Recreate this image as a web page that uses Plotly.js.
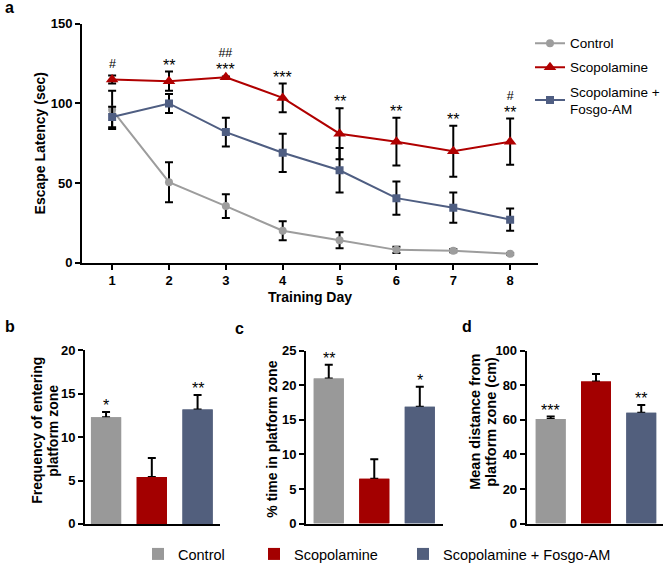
<!DOCTYPE html>
<html>
<head>
<meta charset="utf-8">
<script src="https://cdn.plot.ly/plotly-3.0.1.min.js"></script>
<style>
body{margin:0;background:#fff}
#chart{width:669px;height:570px}
</style>
</head>
<body>
<div id="chart"></div>
<script>
// panel a: escape latency per training day (mean, error)
var days = [1, 2, 3, 4, 5, 6, 7, 8];
var controlMean = [96, 50.5, 35.5, 20, 14, 8, 7.5, 5.5];
var controlErr = [12, 12.5, 7.5, 6, 5, 2, 1, 0.5];
var scopMean = [115, 114, 116.5, 103.5, 81, 76, 70, 76];
var scopErr = [2.5, 6, 0.5, 9, 16, 15, 16, 14.5];
var fosgoMean = [91.5, 100, 82, 69, 58, 40.5, 34.5, 27];
var fosgoErr = [6.5, 6, 9, 12, 14, 10.5, 9.5, 7];
var starLabels = ['', '**', '***', '***', '**', '**', '**', '**'];
var hashLabels = ['#', '', '##', '', '', '', '', '#'];

// panels b-d: probe trial bars
var groups = ['Control', 'Scopolamine', 'Scopolamine + Fosgo-AM'];
var freqMean = [12.3, 5.4, 13.2];
var freqErr = [0.6, 2.2, 1.65];
var freqSig = ['*', '', '**'];
var timeMean = [21.0, 6.5, 16.9];
var timeErr = [2.0, 2.8, 2.9];
var timeSig = ['**', '', '*'];
var distMean = [60.5, 82.2, 64.1];
var distErr = [1.5, 4.4, 4.5];
var distSig = ['***', '', '**'];

var W = 669, H = 570;
function px(x){ return x / W }
function py(y){ return 1 - y / H }

var font = 'Arial, "Liberation Sans", sans-serif';
var lineColors = ['#9d9d9d', '#b00000', '#4f5e82'];
var barColors = ['#999999', '#a30000', '#525f7d'];

var data = [];
var annotations = [];

// line chart
var series = [
    {name: 'Control', y: controlMean, e: controlErr, symbol: 'circle', size: 8},
    {name: 'Scopolamine', y: scopMean, e: scopErr, symbol: 'triangle-up', size: 11},
    {name: 'Scopolamine +<br>Fosgo-AM', y: fosgoMean, e: fosgoErr, symbol: 'square', size: 8}
];
for (let i = 0; i < series.length; i++){
    data.push({
        type: 'scatter',
        mode: 'lines+markers',
        name: series[i].name,
        legendgroup: 'g' + i,
        x: days,
        y: series[i].y,
        line: {color: lineColors[i], width: 2},
        marker: {color: lineColors[i], symbol: series[i].symbol, size: series[i].size},
        error_y: {type: 'data', array: series[i].e, color: '#000', thickness: 2, width: 4},
        xaxis: 'x', yaxis: 'y'
    });
}
// significance marks over the scopolamine points, # stacked above the stars
for (let k = 0; k < days.length; k++){
    var errTop = scopMean[k] + scopErr[k];
    if (starLabels[k]){
        var txt = '<span style="font-size:16px">' + starLabels[k] + '</span>';
        if (hashLabels[k]) txt = '<span style="font-size:12.5px">' + hashLabels[k] + '</span><br>' + txt;
        annotations.push({x: days[k], y: errTop, xref: 'x', yref: 'y', text: txt, showarrow: false,
            yanchor: 'bottom', yshift: -4, font: {family: font, size: 14, color: '#000'}});
    } else if (hashLabels[k]){
        annotations.push({x: days[k], y: errTop, xref: 'x', yref: 'y', text: hashLabels[k], showarrow: false,
            yanchor: 'middle', yshift: 12, font: {family: font, size: 12.5, color: '#000'}});
    }
}

// bar panels
var panels = [
    {mean: freqMean, err: freqErr, sig: freqSig, ax: '2'},
    {mean: timeMean, err: timeErr, sig: timeSig, ax: '3'},
    {mean: distMean, err: distErr, sig: distSig, ax: '4'}
];
for (let p = 0; p < panels.length; p++){
    var pn = panels[p];
    for (let i = 0; i < groups.length; i++){
        data.push({
            type: 'bar', name: groups[i], x: [groups[i]], y: [pn.mean[i]], width: 0.66,
            marker: {color: barColors[i]},
            error_y: {type: 'data', symmetric: false, array: [pn.err[i]], arrayminus: [0], color: '#000', thickness: 2, width: 4},
            showlegend: p == 0, legend: 'legend' + (i + 2),
            xaxis: 'x' + pn.ax, yaxis: 'y' + pn.ax
        });
    }
    // same bars again, hides the lower cap of the error bars
    for (let i = 0; i < groups.length; i++){
        data.push({
            type: 'bar', name: groups[i], x: [groups[i]], y: [pn.mean[i]], width: 0.66,
            marker: {color: barColors[i]}, showlegend: false, hoverinfo: 'skip',
            xaxis: 'x' + pn.ax, yaxis: 'y' + pn.ax
        });
        if (pn.sig[i]){
            annotations.push({x: groups[i], y: pn.mean[i] + pn.err[i], xref: 'x' + pn.ax, yref: 'y' + pn.ax,
                text: pn.sig[i], showarrow: false, yanchor: 'middle', yshift: 6.3,
                font: {family: font, size: 16, color: '#000'}});
        }
    }
}

// panel letters
var letters = [['a', 3, 8], ['b', 3, 328], ['c', 233, 330], ['d', 460, 328]];
for (let i = 0; i < letters.length; i++){
    annotations.push({text: letters[i][0], x: px(letters[i][1]), y: py(letters[i][2]), xref: 'paper', yref: 'paper',
        xanchor: 'left', yanchor: 'middle', showarrow: false,
        font: {family: font, size: 16, weight: 'bold', color: '#000'}});
}

// y titles of the bar panels, one line each
var barTitles = [
    ['Frequency of entering', 37, 433, 14],
    ['platform zone', 53, 433, 14],
    ['% time in platform zone', 272, 442, 14],
    ['Mean distance from', 475, 424, 14.5],
    ['platform zone (cm)', 491, 424, 14.5]
];
for (let i = 0; i < barTitles.length; i++){
    annotations.push({text: barTitles[i][0], x: px(barTitles[i][1]), y: py(barTitles[i][2]), xref: 'paper', yref: 'paper',
        xanchor: 'center', yanchor: 'middle', textangle: -90, showarrow: false,
        font: {family: font, size: barTitles[i][3], weight: 'bold', color: '#000'}});
}

var tickFont = {family: font, size: 13, weight: 'bold', color: '#000'};
var titleFont = {family: font, size: 14, weight: 'bold', color: '#000'};

function yax(dom, range, dtick, anchor){
    return {domain: dom, range: range, dtick: dtick, anchor: anchor,
        showline: true, linewidth: 2, linecolor: '#000', ticks: 'outside', ticklen: 5, tickwidth: 2, tickcolor: '#000',
        showgrid: false, zeroline: false, tickfont: tickFont};
}
function barx(dom, range, anchor){
    return {domain: dom, range: range, anchor: anchor, type: 'category', categoryarray: groups,
        showline: true, linewidth: 2, linecolor: '#000', ticks: '', showticklabels: false,
        showgrid: false, zeroline: false};
}
function bottomLegend(x){
    return {x: px(x), y: py(541), xanchor: 'left', yanchor: 'top', bgcolor: 'rgba(0,0,0,0)',
        font: {family: font, size: 14.5, color: '#000'}};
}

var yMain = yax([py(264), py(24)], [0, 150], 50, 'x');
yMain.title = {text: 'Escape Latency (sec)', font: titleFont, standoff: 2};

var layout = {
    width: W, height: H,
    margin: {l: 0, r: 0, t: 0, b: 0},
    paper_bgcolor: '#fff', plot_bgcolor: '#fff',
    barmode: 'overlay',
    font: {family: font, color: '#000'},
    xaxis: {domain: [px(82), px(538)], range: [0.47, 8.49], tickvals: days, anchor: 'y',
        showline: true, linewidth: 2, linecolor: '#000', ticks: 'outside', ticklen: 5, tickwidth: 2, tickcolor: '#000',
        showgrid: false, zeroline: false, tickfont: tickFont,
        title: {text: 'Training Day', font: titleFont, standoff: 5}},
    yaxis: yMain,
    xaxis2: barx([px(85), px(220)], [-0.46, 2.49], 'y2'),
    yaxis2: yax([py(526.7), py(352.3)], [0, 20], 5, 'x2'),
    xaxis3: barx([px(306), px(443)], [-0.5, 2.51], 'y3'),
    yaxis3: yax([py(526.3), py(352.7)], [0, 25], 5, 'x3'),
    xaxis4: barx([px(526.7), px(663)], [-0.53, 2.48], 'y4'),
    yaxis4: yax([py(526.3), py(352.7)], [0, 100], 20, 'x4'),
    legend: {x: px(530), y: py(28), xanchor: 'left', yanchor: 'top', bgcolor: 'rgba(0,0,0,0)',
        traceorder: 'grouped', tracegroupgap: 3.5, font: {family: font, size: 13.5, color: '#000'}},
    legend2: bottomLegend(138),
    legend3: bottomLegend(254),
    legend4: bottomLegend(403),
    annotations: annotations
};

Plotly.newPlot('chart', data, layout, {staticPlot: true});
</script>
</body>
</html>
